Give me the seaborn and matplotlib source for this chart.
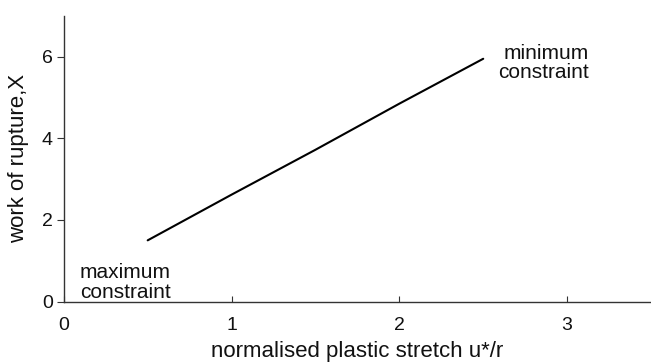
import matplotlib
matplotlib.use("Agg")
import matplotlib.pyplot as plt
import seaborn as sns
import pandas as pd

stretch = [0.5, 1.0, 1.5, 2.0, 2.5]
rupture = [1.5, 2.62, 3.72, 4.85, 5.95]
x_ticks = [0, 1, 2, 3]
y_ticks = [0, 2, 4, 6]

df = pd.DataFrame({"stretch": stretch, "rupture": rupture})

sns.set_style("ticks")
plt.rcParams["font.family"] = ["Liberation Sans", "DejaVu Sans"]
plt.rcParams["text.color"] = "#111111"
plt.rcParams["axes.labelcolor"] = "#111111"

fig = plt.figure(figsize=(6.51, 3.62), dpi=100)
ax = fig.add_axes([0.098, 0.167, 0.902, 0.789])
sns.lineplot(data=df, x="stretch", y="rupture", color="black", linewidth=1.5, ax=ax)

ax.set_xlim(0, 3.5)
ax.set_ylim(0, 7)
ax.set_xticks(x_ticks)
ax.set_yticks(y_ticks)
ax.tick_params(axis="x", direction="in", length=4, labelsize=14, pad=11,
               color="#333333", labelcolor="#111111")
ax.tick_params(axis="y", direction="out", length=5, labelsize=14, pad=3,
               color="#333333", labelcolor="#111111")
for s in ["top", "right"]:
    ax.spines[s].set_visible(False)
for s in ["left", "bottom"]:
    ax.spines[s].set_color("#333333")
    ax.spines[s].set_linewidth(1.0)

ax.set_xlabel("normalised plastic stretch u*/r", fontsize=16, labelpad=5)
ax.set_ylabel("work of rupture,X", fontsize=16, labelpad=9)

ax.text(0.095, 0.0, "maximum\nconstraint", fontsize=15, ha="left", va="bottom",
        linespacing=1.05, multialignment="left")
ax.text(3.13, 6.32, "minimum\nconstraint", fontsize=15, ha="right", va="top",
        linespacing=1.05, multialignment="right")

fig.savefig("out.png", dpi=100)
